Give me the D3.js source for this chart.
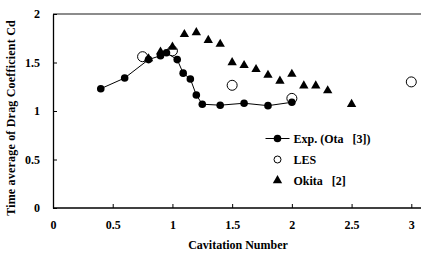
<!DOCTYPE html>
<html>
<head>
<meta charset="utf-8">
<script src="https://cdn.jsdelivr.net/npm/d3@7"></script>
<style>
  body { margin: 0; background: #fff; }
  svg text { font-family: "Liberation Serif", "Times New Roman", serif; font-weight: bold; }
</style>
</head>
<body>
<div id="chart"></div>
<script>
// cavitation number vs time-averaged drag coefficient
var expX = [0.4, 0.6, 0.8, 0.9, 0.95, 1.04, 1.09, 1.15, 1.2, 1.25, 1.4, 1.6, 1.8, 2.0];
var expCd = [1.23, 1.34, 1.53, 1.57, 1.6, 1.53, 1.39, 1.33, 1.165, 1.07, 1.06, 1.08, 1.055, 1.09];

var lesX = [0.75, 1.0, 1.5, 2.0, 3.0];
var lesCd = [1.56, 1.62, 1.265, 1.13, 1.3];

var okitaX = [0.8, 0.9, 1.0, 1.1, 1.2, 1.3, 1.4, 1.5, 1.6, 1.7, 1.8, 1.9, 2.0, 2.1, 2.2, 2.3, 2.5];
var okitaCd = [1.54, 1.61, 1.66, 1.79, 1.81, 1.73, 1.69, 1.5, 1.47, 1.43, 1.37, 1.31, 1.38, 1.26, 1.26, 1.21, 1.07];

var xTicks = [0, 0.5, 1, 1.5, 2, 2.5, 3];
var yTicks = [0, 0.5, 1, 1.5, 2];

var legendNames = ["Exp. (Ota\u00a0\u00a0\u00a0[3])", "LES", "Okita\u00a0\u00a0\u00a0[2]"];

var margin = {top: 14, right: 0, bottom: 49, left: 53},
    width = 421 - margin.left - margin.right,
    height = 257 - margin.top - margin.bottom;

var x = d3.scaleLinear()
    .domain([0, 3])
    .range([0, 358.3]);

var y = d3.scaleLinear()
    .domain([0, 2])
    .range([height, 0]);

var svg = d3.select("#chart").append("svg")
    .attr("width", 421)
    .attr("height", 257)
  .append("g")
    .attr("transform", "translate(" + margin.left + "," + margin.top + ")");

// top frame line (grey)
svg.append("line")
    .attr("x1", 0).attr("x2", width)
    .attr("y1", 0).attr("y2", 0)
    .attr("stroke", "#666")
    .attr("stroke-width", 1.3);

var xAxis = d3.axisBottom(x)
    .tickValues(xTicks)
    .tickFormat(d3.format("~g"))
    .tickSizeInner(-4)
    .tickSizeOuter(0)
    .tickPadding(12);

var yAxis = d3.axisLeft(y)
    .tickValues(yTicks)
    .tickFormat(d3.format("~g"))
    .tickSizeInner(-4)
    .tickSizeOuter(0)
    .tickPadding(13);

var gx = svg.append("g")
    .attr("transform", "translate(0," + height + ")")
    .call(xAxis);
gx.select(".domain").attr("d", "M0,0H" + width).attr("stroke-width", 1.3);
gx.selectAll("text").attr("font-size", 12).attr("font-family", null);

var gy = svg.append("g")
    .call(yAxis);
gy.select(".domain").attr("stroke-width", 1.3);
gy.selectAll("text").attr("font-size", 12).attr("font-family", null);

svg.append("text")
    .attr("x", 185)
    .attr("y", height + 41)
    .attr("text-anchor", "middle")
    .attr("font-size", 12)
    .text("Cavitation Number");

svg.append("text")
    .attr("transform", "translate(-38," + (height / 2 + 7) + ") rotate(-90)")
    .attr("text-anchor", "middle")
    .attr("font-size", 12)
    .attr("letter-spacing", 0.2)
    .text("Time average  of Drag Coefficient Cd");

var expData = expX.map(function(d, i) { return [d, expCd[i]]; });
var lesData = lesX.map(function(d, i) { return [d, lesCd[i]]; });
var okitaData = okitaX.map(function(d, i) { return [d, okitaCd[i]]; });

var line = d3.line()
    .x(function(d) { return x(d[0]); })
    .y(function(d) { return y(d[1]); });

svg.append("path")
    .datum(expData)
    .attr("d", line)
    .attr("fill", "none")
    .attr("stroke", "#000")
    .attr("stroke-width", 1);

svg.selectAll(".exp")
    .data(expData)
  .enter().append("circle")
    .attr("class", "exp")
    .attr("cx", function(d) { return x(d[0]); })
    .attr("cy", function(d) { return y(d[1]); })
    .attr("r", 3.8)
    .attr("fill", "#000");

svg.selectAll(".les")
    .data(lesData)
  .enter().append("circle")
    .attr("class", "les")
    .attr("cx", function(d) { return x(d[0]); })
    .attr("cy", function(d) { return y(d[1]); })
    .attr("r", 5)
    .attr("fill", "none")
    .attr("stroke", "#000")
    .attr("stroke-width", 1);

var tri = d3.symbol().type(d3.symbolTriangle).size(38);

svg.selectAll(".okita")
    .data(okitaData)
  .enter().append("path")
    .attr("class", "okita")
    .attr("transform", function(d) { return "translate(" + x(d[0]) + "," + y(d[1]) + ")"; })
    .attr("d", tri)
    .attr("fill", "#000");

// legend
var legend = svg.append("g")
    .attr("transform", "translate(" + (277.5 - margin.left) + "," + (138.5 - margin.top) + ")");

var rows = legend.selectAll(".row")
    .data(legendNames)
  .enter().append("g")
    .attr("class", "row")
    .attr("transform", function(d, i) { return "translate(0," + (i * 21) + ")"; });

rows.append("text")
    .attr("x", 16)
    .attr("y", 4)
    .attr("font-size", 12)
    .text(function(d) { return d; });

legend.append("line")
    .attr("x1", -12).attr("x2", 12)
    .attr("y1", 0).attr("y2", 0)
    .attr("stroke", "#000")
    .attr("stroke-width", 1);
legend.append("circle")
    .attr("r", 3.8)
    .attr("fill", "#000");
legend.append("circle")
    .attr("cy", 21)
    .attr("r", 3.5)
    .attr("fill", "none")
    .attr("stroke", "#000");
legend.append("path")
    .attr("transform", "translate(0,42)")
    .attr("d", tri)
    .attr("fill", "#000");
</script>
</body>
</html>
